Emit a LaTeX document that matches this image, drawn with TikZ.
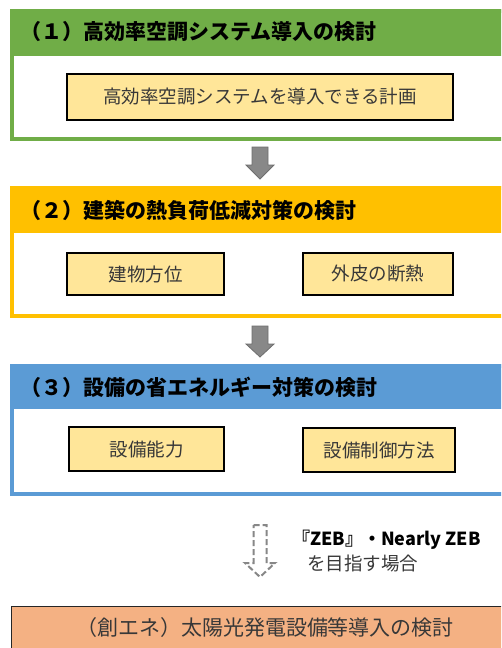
\documentclass[tikz,border=0pt]{standalone}
\usepackage{fontspec}
\newfontfamily\jp{Noto Sans CJK JP}
\definecolor{secgreen}{RGB}{112,173,71}
\definecolor{secgold}{RGB}{255,192,0}
\definecolor{secblue}{RGB}{91,155,213}
\definecolor{itemfill}{RGB}{255,230,153}
\definecolor{solarfill}{RGB}{244,177,131}
\definecolor{arrowgray}{RGB}{136,136,136}
\definecolor{arrowedge}{RGB}{110,110,110}
\definecolor{dashgray}{RGB}{135,135,135}
\newcommand{\downblock}[4]{% x, top, headstart, tip
  (#1-8,#2) -- (#1+8,#2) -- (#1+8,#3) -- (#1+14,#3) -- (#1,#4) -- (#1-14,#3) -- (#1-8,#3) -- cycle}
\begin{document}
\begin{tikzpicture}[x=1pt,y=-1pt,
  frame/.style={draw, line width=4pt, fill=white, anchor=north west, inner sep=0pt, outer sep=0pt},
  head/.style={anchor=north west, inner sep=0pt, outer sep=0pt},
  headtext/.style={anchor=west, font=\jp\bfseries\fontsize{21}{25}\selectfont, text=black, inner sep=0pt},
  item/.style={draw=black, line width=1.5pt, fill=itemfill, inner sep=0pt, font=\jp\fontsize{18.5}{22}\selectfont, text=black!78},
  blockarrow/.style={fill=arrowgray, draw=arrowedge, line width=0.8pt, line join=miter},
  dasharrow/.style={draw=dashgray, line width=2pt, dash pattern=on 6pt off 3pt}
]
\useasboundingbox (0,0) rectangle (501,648);
\fill[white] (0,0) rectangle (501,648);
\clip (0,0) rectangle (501,648);

% Section 1
\node[frame, draw=secgreen, minimum width=528pt, minimum height=128pt] (s1) at (12,11) {};
\node[head, fill=secgreen, minimum width=530pt, minimum height=47pt] (h1) at (10,9) {};
\node[headtext] (t1) at (20,32) {（１）高効率空調システム導入の検討};
\node[item, minimum width=386pt, minimum height=46pt] (b1) at (260,97) {高効率空調システムを導入できる計画};

% Section 2
\node[frame, draw=secgold, minimum width=528pt, minimum height=128pt] (s2) at (12,188) {};
\node[head, fill=secgold, minimum width=530pt, minimum height=47pt] (h2) at (10,186) {};
\node[headtext] (t2) at (20,210) {（２）建築の熱負荷低減対策の検討};
\node[item, minimum width=157pt, minimum height=42pt] (b21) at (145.5,274) {建物方位};
\node[item, minimum width=150pt, minimum height=42pt] (b22) at (378,274) {外皮の断熱};

% Section 3
\node[frame, draw=secblue, line width=3.5pt, minimum width=528pt, minimum height=128pt] (s3) at (12,366) {};
\node[head, fill=secblue, minimum width=530pt, minimum height=45pt] (h3) at (10,364) {};
\node[headtext] (t3) at (20,387) {（３）設備の省エネルギー対策の検討};
\node[item, minimum width=155pt, minimum height=44pt] (b31) at (146.5,449) {設備能力};
\node[item, minimum width=152pt, minimum height=44pt] (b32) at (379,450) {設備制御方法};

% Arrows between sections
\draw[blockarrow] \downblock{260}{147}{165}{179};
\draw[blockarrow] \downblock{260}{326}{344}{357};
\draw[dasharrow] (253.5,525) -- (266.5,525) -- (266.5,563) -- (275,563) -- (260,577) -- (245,563) -- (253.5,563) -- cycle;

\node[anchor=west, inner sep=0pt, font=\jp\bfseries\fontsize{18}{21}\selectfont] (z1) at (292,540) {『ZEB』・Nearly ZEB};
\node[anchor=west, inner sep=0pt, font=\jp\fontsize{18.5}{22}\selectfont, text=black!78] (z2) at (307,563) {を目指す場合};

% Bottom box
\node[draw=black!85, line width=1.5pt, fill=solarfill, anchor=north west, inner sep=0pt, outer sep=0pt,
  minimum width=540pt, minimum height=80pt] (s4) at (11.5,606.5) {};
\node[font=\jp\fontsize{21}{25}\selectfont, text=black!78, inner sep=0pt] (t4) at (265,628) {（創エネ）太陽光発電設備等導入の検討};
\end{tikzpicture}
\end{document}
